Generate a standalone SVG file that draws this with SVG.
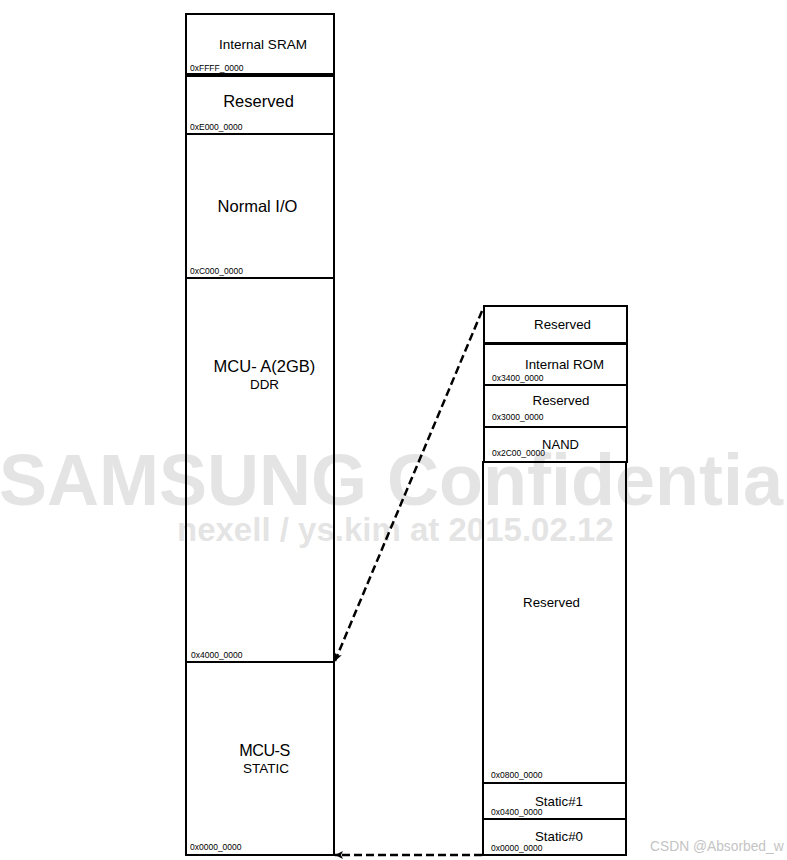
<svg xmlns="http://www.w3.org/2000/svg" width="787" height="860" viewBox="0 0 787 860">
<style>
.box{fill:none;stroke:#000;stroke-width:2}
.t{font-family:"Liberation Sans",Arial,sans-serif;fill:#000;text-anchor:middle}
.h{font-family:"Liberation Sans",Arial,sans-serif;fill:#000;font-size:8.5px}
.wm{font-family:"Liberation Sans",Arial,sans-serif;font-weight:bold;fill:#d8d8d8;fill-opacity:0.7}
.dash{fill:none;stroke:#000;stroke-width:2.5;stroke-dasharray:8 4}
</style>
<defs>
<marker id="arr" viewBox="0 0 10 10" refX="10" refY="5" markerWidth="9" markerHeight="8" orient="auto" markerUnits="userSpaceOnUse">
<path d="M0,0 L10,5 L0,10 L2.5,5 z" fill="#000"/>
</marker>
</defs>
<rect width="787" height="860" fill="#fff"/>
<g id="watermark">
<text class="wm" x="-1" y="505" font-size="72">SAMSUNG Confidential</text>
<text class="wm" x="177" y="541" font-size="33">nexell / ys.kim at 2015.02.12</text>
</g>
<g id="sram"><rect class="box" x="186" y="14" width="148" height="60"/><text class="t" x="263" y="49" font-size="13.5">Internal SRAM</text><text class="h" x="190" y="71">0xFFFF_0000</text></g>
<g id="reserved-e"><rect class="box" x="186" y="76" width="148" height="58"/><text class="t" x="258.5" y="106.5" font-size="16.5">Reserved</text><text class="h" x="190" y="129.5">0xE000_0000</text></g>
<g id="normal-io"><rect class="box" x="186" y="134" width="148" height="144"/><text class="t" x="257.5" y="212" font-size="16.5">Normal I/O</text><text class="h" x="190" y="273.5">0xC000_0000</text></g>
<g id="mcu-a"><rect class="box" x="186" y="278" width="148" height="384"/><text class="t" x="264.5" y="372" font-size="16.5">MCU- A(2GB)</text><text class="t" x="264.5" y="388.5" font-size="13.4">DDR</text><text class="h" x="191" y="658">0x4000_0000</text></g>
<g id="mcu-s"><rect class="box" x="186" y="662" width="148" height="193"/><text class="t" x="264.5" y="756" font-size="16.2" letter-spacing="-0.5">MCU-S</text><text class="t" x="266" y="772.5" font-size="13.5">STATIC</text><text class="h" x="190" y="850">0x0000_0000</text></g>
<g id="r-reserved-top"><rect class="box" x="484" y="306" width="143" height="37"/><text class="t" x="562.5" y="328.5" font-size="13.3">Reserved</text></g>
<g id="r-rom"><rect class="box" x="484" y="344" width="143" height="41"/><text class="t" x="564.5" y="368.5" font-size="13.3">Internal ROM</text><text class="h" x="492" y="381">0x3400_0000</text></g>
<g id="r-reserved-3"><rect class="box" x="484" y="385" width="143" height="42"/><text class="t" x="561" y="405" font-size="13.3">Reserved</text><text class="h" x="492" y="420">0x3000_0000</text></g>
<g id="r-nand"><rect class="box" x="484" y="427" width="143" height="35"/><text class="t" x="560.5" y="449" font-size="13">NAND</text><text class="h" x="492" y="456">0x2C00_0000</text></g>
<g id="r-reserved-big"><rect class="box" x="483" y="462" width="143" height="321"/><text class="t" x="551.5" y="607" font-size="13.3">Reserved</text><text class="h" x="491" y="778">0x0800_0000</text></g>
<g id="r-static1"><rect class="box" x="483" y="783" width="143" height="36"/><text class="t" x="559" y="805.5" font-size="13.3">Static#1</text><text class="h" x="491" y="815">0x0400_0000</text></g>
<g id="r-static0"><rect class="box" x="483" y="819" width="143" height="36"/><text class="t" x="559" y="841" font-size="13.3">Static#0</text><text class="h" x="491" y="851">0x0000_0000</text></g>
<g id="connectors">
<path class="dash" d="M482,311 L335,661" marker-end="url(#arr)"/>
<path class="dash" d="M482,855 L335,855" marker-end="url(#arr)"/>
</g>
<text x="650" y="851" font-family="Liberation Sans,Arial,sans-serif" font-size="13.8" fill="#c4c4c4">CSDN @Absorbed_w</text>
</svg>
